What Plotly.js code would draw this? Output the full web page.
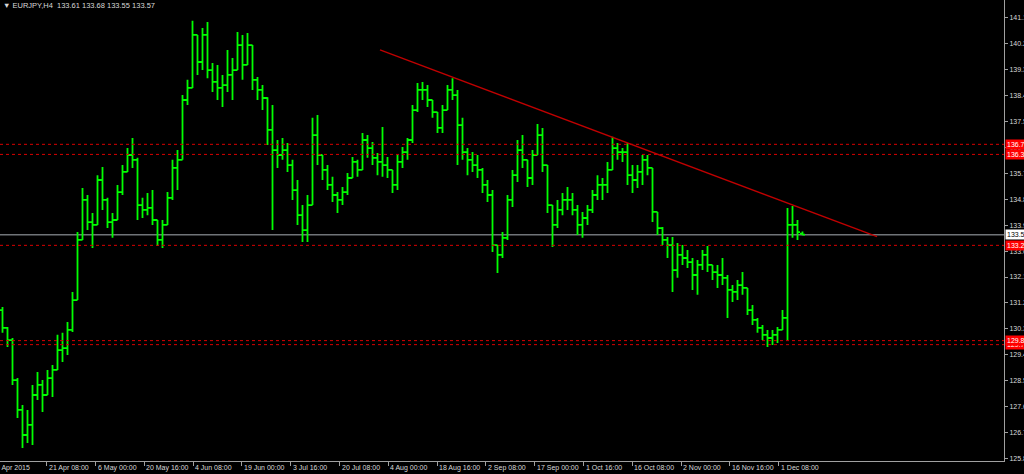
<!DOCTYPE html>
<html>
<head>
<meta charset="utf-8">
<script src="https://cdn.plot.ly/plotly-3.0.1.min.js"></script>
<style>
html,body{margin:0;padding:0;background:#000;overflow:hidden;}
#chart{width:1024px;height:474px;}
</style>
</head>
<body>
<div id="chart"></div>
<script>
// EURJPY H4 bars (aggregated)
const openP = [130.95,130.33,129.91,128.52,127.48,126.61,126.96,128.00,128.35,128.00,
128.59,128.87,129.56,129.63,130.26,131.30,133.39,134.78,134.01,133.91,
135.47,134.78,134.01,134.08,135.05,135.75,136.34,136.17,134.60,134.43,
134.50,134.08,133.39,133.91,134.85,135.89,136.17,138.25,138.67,140.51,
139.57,140.51,139.29,138.88,138.67,138.77,139.12,139.29,140.16,139.47,
140.16,138.95,138.60,138.32,137.21,136.51,136.34,136.51,135.99,135.12,
134.25,133.73,134.60,137.03,136.34,135.82,135.30,134.95,134.78,135.05,
135.54,136.10,135.82,136.86,136.58,136.24,136.10,135.99,135.82,135.30,
136.10,136.44,136.86,137.90,138.60,138.60,138.25,137.83,137.28,137.90,
138.60,138.42,137.38,136.44,136.17,135.99,135.82,135.30,134.95,133.21,
132.87,133.46,134.78,135.64,136.51,136.17,135.54,136.34,137.03,135.99,
134.60,133.91,134.43,134.78,134.78,134.43,133.91,134.15,134.43,134.95,
135.30,135.30,135.82,136.58,136.44,136.44,135.64,135.47,135.75,136.17,
135.89,134.36,133.80,133.39,133.21,132.34,132.87,132.76,132.62,132.17,
132.52,132.87,132.52,132.27,132.17,132.07,131.65,131.58,131.82,131.72,
130.95,130.61,130.33,130.09,129.98,130.09,130.26,130.68,133.91,133.91,
133.61];
const highP = [131.06,130.36,129.98,128.59,127.65,127.48,128.35,128.80,128.52,128.87,
129.04,130.09,130.16,130.54,131.58,133.66,135.19,134.95,134.32,135.64,
135.92,134.85,134.32,135.30,135.99,136.58,136.93,136.24,134.85,135.02,
135.12,134.08,134.08,135.05,136.17,136.51,138.42,138.95,141.00,140.51,
140.75,140.96,139.54,139.47,139.12,139.99,139.71,140.61,140.51,140.58,
140.16,139.05,138.77,138.35,138.08,136.86,136.93,136.76,136.17,135.47,
134.60,134.95,137.63,137.73,136.34,135.99,135.58,135.05,135.23,135.71,
136.27,136.17,137.10,137.03,136.79,136.41,137.31,136.27,135.82,136.34,
136.62,136.93,138.08,138.84,138.88,138.77,138.25,137.83,138.08,138.77,
139.01,138.60,137.63,136.58,136.44,136.34,135.89,135.47,135.12,133.21,
133.66,134.95,135.82,136.86,137.03,136.17,136.51,137.42,137.28,135.99,
134.60,134.78,135.02,135.23,135.02,134.60,134.36,134.60,135.12,135.64,
135.54,136.10,136.97,136.76,136.58,136.76,135.99,135.99,136.34,136.34,
135.89,134.36,133.84,133.49,133.49,133.28,133.21,133.04,132.76,132.69,
133.04,133.18,132.52,132.52,132.76,132.17,131.82,132.00,132.27,131.72,
131.13,130.68,130.43,130.26,130.26,130.36,130.95,134.50,134.57,134.08,
133.68];
const lowP = [130.16,129.67,128.35,127.20,126.16,126.33,126.26,127.83,127.41,128.00,
127.93,128.87,129.15,129.39,130.19,131.30,133.39,133.73,133.11,133.91,
134.43,133.80,133.46,134.08,134.95,135.75,135.89,134.08,134.15,134.25,
133.91,133.18,133.11,133.91,134.78,135.12,136.17,138.08,138.67,139.12,
139.29,139.01,138.53,138.25,138.01,138.53,138.25,139.29,138.95,139.47,
138.60,138.25,137.90,136.69,133.73,135.89,136.17,135.75,134.78,133.91,
133.32,133.32,134.60,135.99,135.47,135.12,134.71,134.32,134.60,134.95,
135.54,135.58,135.82,136.24,135.99,135.64,135.58,135.54,135.02,135.12,
135.89,136.17,136.76,137.83,138.25,138.01,137.63,137.10,137.10,137.90,
138.25,135.99,136.17,135.64,135.75,135.54,135.02,134.71,132.97,132.24,
132.76,133.39,134.53,135.40,135.89,135.23,135.30,136.34,135.75,134.32,
133.14,133.80,134.25,134.43,134.25,133.56,133.46,133.91,134.32,134.78,
134.78,135.02,135.82,136.17,136.10,135.30,135.02,135.19,135.30,135.64,
134.01,133.56,133.21,132.76,131.58,132.07,132.52,132.41,131.65,131.48,
132.34,132.27,132.00,131.72,131.82,130.68,131.23,131.30,131.48,130.78,
130.43,130.16,129.91,129.67,129.74,129.81,130.26,129.91,133.46,133.39,
133.55];
const closeP = [130.33,129.91,128.52,127.48,126.61,126.96,128.00,128.35,128.00,128.59,
128.87,129.56,129.63,130.26,131.30,133.39,134.78,134.01,133.91,135.47,
134.78,134.01,134.08,135.05,135.75,136.34,136.17,134.60,134.43,134.50,
134.08,133.39,133.91,134.85,135.89,136.17,138.25,138.67,140.51,139.57,
140.51,139.29,138.88,138.67,138.77,139.12,139.29,140.16,139.47,140.16,
138.95,138.60,138.32,137.21,136.51,136.34,136.51,135.99,135.12,134.25,
133.73,134.60,137.03,136.34,135.82,135.30,134.95,134.78,135.05,135.54,
136.10,135.82,136.86,136.58,136.24,136.10,135.99,135.82,135.30,136.10,
136.44,136.86,137.90,138.60,138.60,138.25,137.83,137.28,137.90,138.60,
138.42,137.38,136.44,136.17,135.99,135.82,135.30,134.95,133.21,132.87,
133.46,134.78,135.64,136.51,136.17,135.54,136.34,137.03,135.99,134.60,
133.91,134.43,134.78,134.78,134.43,133.91,134.15,134.43,134.95,135.30,
135.30,135.82,136.58,136.44,136.44,135.64,135.47,135.75,136.17,135.89,
134.36,133.80,133.39,133.21,132.34,132.87,132.76,132.62,132.17,132.52,
132.87,132.52,132.27,132.17,132.07,131.65,131.58,131.82,131.72,130.95,
130.61,130.33,130.09,129.98,130.09,130.26,130.68,133.91,133.91,133.66,
133.57];

const symbol = "EURJPY,H4";
const xTickLabels = ["21 Apr 08:00","6 May 00:00","20 May 16:00","4 Jun 08:00","19 Jun 00:00",
  "3 Jul 16:00","20 Jul 08:00","4 Aug 00:00","18 Aug 16:00","2 Sep 08:00","17 Sep 00:00",
  "1 Oct 16:00","16 Oct 08:00","2 Nov 00:00","16 Nov 16:00","1 Dec 08:00"];
const firstLabel = "6 Apr 2015";
const yTickValues = [141.1,140.2,139.3,138.4,137.5,136.6,135.7,134.8,133.9,133.0,132.1,131.2,130.3,129.4,128.5,127.6,126.7,125.8];
const levels = [136.71,136.36,133.20,129.75,129.89];   // horizontal dotted lines
const trendX = [75.5,174.9];                            // trendline anchor bars
const trendY = [139.99,133.50];                         // trendline anchor prices

const n = closeP.length;
const idx = openP.map((_, i) => i);
const last = [openP[n-1], highP[n-1], lowP[n-1], closeP[n-1]];
const bid = closeP[n-1];

// layout constants
const tick0 = 8.84, tickStep = 9.76;
const xTickVals = xTickLabels.map((_, i) => tick0 + i * tickStep);
const fontFam = "Liberation Sans, Arial, sans-serif";
const axisCol = "#a0a0a0";
const txtCol = "#d8d8d8";

const trace = {
  type: "ohlc",
  x: idx, open: openP, high: highP, low: lowP, close: closeP,
  increasing: {line: {color: "#00ff00", width: 1.8}},
  decreasing: {line: {color: "#00ff00", width: 1.8}},
  tickwidth: 0.5,
  hoverinfo: "none"
};

const shapes = [];
levels.forEach(v => shapes.push({
  type: "line", xref: "paper", x0: 0, x1: 1, yref: "y", y0: v, y1: v,
  line: {color: "#d80000", width: 1, dash: "3px,3px"}, layer: "above"
}));
shapes.push({type: "line", xref: "paper", x0: 0, x1: 1, yref: "y", y0: bid, y1: bid,
  line: {color: "#707478", width: 1.5}, layer: "below"});
shapes.push({type: "line", xref: "x", yref: "y", x0: trendX[0], x1: trendX[1], y0: trendY[0], y1: trendY[1],
  line: {color: "#c00000", width: 1.3}});

const annotations = [];
annotations.push({
  xref: "paper", yref: "paper", x: 0, y: 1, xanchor: "left", yanchor: "top", xshift: 1, yshift: 1,
  text: "▼ " + symbol + "  " + last.map(v => v.toFixed(2)).join(" "),
  showarrow: false, font: {family: fontFam, size: 7.5, color: txtCol}
});
annotations.push({
  xref: "paper", yref: "paper", x: 0, y: 0, xanchor: "left", yanchor: "top", xshift: -6, yshift: -1,
  text: firstLabel, showarrow: false, font: {family: fontFam, size: 7, color: txtCol}
});
xTickLabels.forEach((t, i) => annotations.push({
  xref: "x", yref: "paper", x: xTickVals[i], y: 0, xanchor: "left", yanchor: "top", xshift: 0, yshift: -1,
  text: t, showarrow: false, font: {family: fontFam, size: 7, color: txtCol}
}));
levels.forEach(v => annotations.push({
  xref: "paper", yref: "y", x: 1, y: v, xanchor: "left", yanchor: "middle", xshift: 1,
  text: v.toFixed(3), showarrow: false, bgcolor: "#ff0000", borderpad: 1,
  font: {family: fontFam, size: 7, color: "#ffffff"}
}));
annotations.push({
  xref: "paper", yref: "y", x: 1, y: bid, xanchor: "left", yanchor: "middle", xshift: 1,
  text: bid.toFixed(3), showarrow: false, bgcolor: "#ffffff", borderpad: 1,
  font: {family: fontFam, size: 7, color: "#000000"}
});

const layout = {
  width: 1024, height: 474,
  paper_bgcolor: "#000000", plot_bgcolor: "#000000",
  margin: {l: 0, r: 20, t: 0, b: 13, pad: 0},
  showlegend: false,
  dragmode: false,
  xaxis: {
    range: [-0.5, 200.3], tickmode: "array", tickvals: xTickVals, ticktext: xTickLabels,
    showticklabels: false,
    ticks: "outside", ticklen: 4, tickcolor: axisCol, tickwidth: 1,
    showline: true, linecolor: axisCol, linewidth: 1, mirror: false,
    showgrid: false, zeroline: false, automargin: false,
    rangeslider: {visible: false}, fixedrange: true
  },
  yaxis: {
    side: "right", range: [125.707, 141.725], tickmode: "array", tickvals: yTickValues,
    ticktext: yTickValues.map(v => v.toFixed(1)),
    ticks: "outside", ticklen: 3, tickcolor: axisCol, tickwidth: 1,
    showline: true, linecolor: axisCol, linewidth: 1,
    showgrid: false, zeroline: false, automargin: false,
    tickfont: {family: fontFam, size: 7, color: txtCol}, fixedrange: true
  },
  shapes: shapes,
  annotations: annotations
};

Plotly.newPlot("chart", [trace], layout, {staticPlot: true, displayModeBar: false});
</script>
</body>
</html>
